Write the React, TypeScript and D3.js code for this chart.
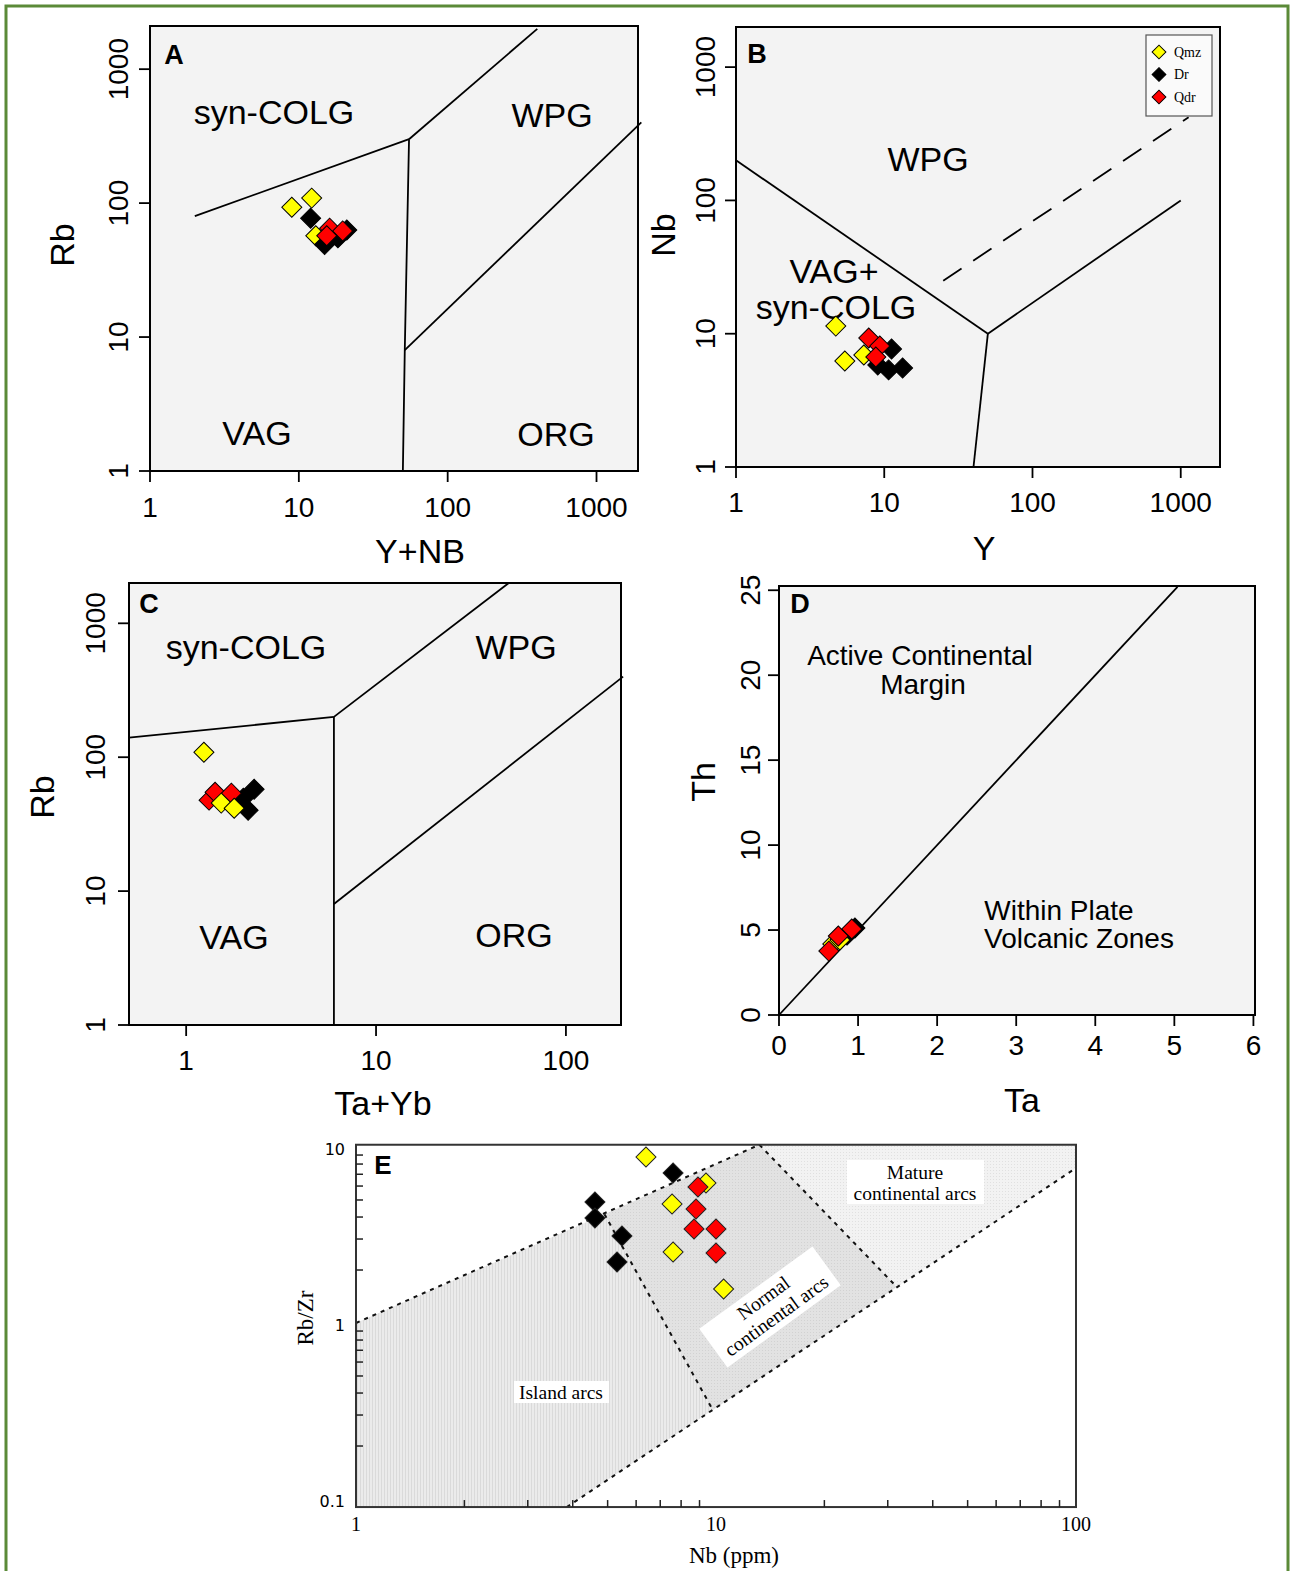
import React from "react";
import * as d3 from "d3";

type Pt = [number, number];

// series names / colours
const groups = ["Qmz", "Dr", "Qdr"];
const groupFill: Record<string, string> = { Qmz: "#ffff00", Dr: "#000000", Qdr: "#ff0000" };

// ---- A: Rb vs Y+Nb ----
const aQmz: Pt[] = [[8.97, 93], [12.2, 109], [13.0, 57]];
const aDr: Pt[] = [[12.0, 77], [14.9, 49], [18.3, 55], [21, 63]];
const aQdr: Pt[] = [[16.1, 65], [19.7, 62], [15.4, 57]];

// ---- B: Nb vs Y ----
const bQmz: Pt[] = [[4.71, 11.4], [5.42, 6.24], [7.28, 6.92]];
const bDr: Pt[] = [[11.2, 7.68], [9.04, 5.82], [10.7, 5.35], [13.3, 5.53]];
const bQdr: Pt[] = [[7.86, 9.28], [9.33, 8.09], [8.77, 6.69]];

// ---- C: Rb vs Ta+Yb ----
const cQmz: Pt[] = [[1.24, 109], [1.53, 45.4], [1.79, 41.6]];
const cDr: Pt[] = [[2.28, 57.7], [2.12, 40.2], [2.0, 49.4]];
const cQdr: Pt[] = [[1.32, 47.8], [1.42, 54.8], [1.73, 53.9]];

// ---- D: Th vs Ta ----
const dQmz: Pt[] = [[0.68, 4.18], [0.77, 4.41]];
const dDr: Pt[] = [[0.96, 5.12], [0.86, 4.7]];
const dQdr: Pt[] = [[0.75, 4.65], [0.92, 5.06], [0.63, 3.76]];

// ---- E: Rb/Zr vs Nb ----
const eQmz: Pt[] = [[6.39, 8.77], [9.38, 6.24], [7.55, 4.74], [7.6, 2.53], [10.5, 1.56]];
const eDr: Pt[] = [[7.6, 7.11], [4.61, 4.87], [4.61, 3.95], [5.48, 3.12], [5.31, 2.22]];
const eQdr: Pt[] = [[8.91, 5.93], [8.8, 4.44], [8.69, 3.42], [10.0, 3.42], [10.0, 2.5]];

// discrimination boundaries (data units)
const rbYNbLines: Pt[][] = [
  [[2, 80], [55, 300]],
  [[55, 300], [400, 2000]],
  [[55, 300], [51.5, 8], [50, 1]],
  [[51.5, 8], [2000, 400]],
];
const nbYLines: Pt[][] = [
  [[1, 200], [50, 10]],
  [[50, 10], [40, 1]],
  [[50, 10], [1000, 100]],
];
const nbYDashed: Pt[][] = [[[25, 25], [1130, 420]]];
const rbTaYbLines: Pt[][] = [
  [[0.5, 140], [6, 200]],
  [[6, 200], [50, 2000]],
  [[6, 200], [6, 8], [6, 1]],
  [[6, 8], [200, 400]],
];
const thTaLines: Pt[][] = [[[0, 0], [5.04, 25.2]]];

const islandArcs: Pt[] = [[1, 1], [4.9, 4.15], [9.8, 0.32], [3.85, 0.09], [1, 0.09]];
const normalArcs: Pt[] = [[4.9, 4.15], [13.2, 10.3], [31.8, 1.6], [9.8, 0.32]];
const matureArcs: Pt[] = [[13.2, 10.3], [100, 10.3], [100, 7.6], [31.8, 1.6]];
const eDashed: Pt[][] = [
  [[1, 1], [13.2, 10.3]],
  [[4.9, 4.15], [9.8, 0.32]],
  [[13.2, 10.3], [31.8, 1.6]],
  [[3.85, 0.09], [100, 7.6]],
];

const logTicks = [1, 10, 100, 1000];
const taTicks = [0, 1, 2, 3, 4, 5, 6];
const thTicks = [0, 5, 10, 15, 20, 25];
const eXLabels = [1, 10, 100];
const eYLabels = [0.1, 1, 10];

const SANS = "'Liberation Sans', Arial, sans-serif";
const SERIF = "'Liberation Serif', 'Times New Roman', serif";

const diamond = d3.symbol(d3.symbolSquare, 200)();
const smallDiamond = d3.symbol(d3.symbolSquare, 95)();

type Txt = { t: string; x: number; y: number; size?: number };

function Panel(p: any) {
  const { x, y, xTicks, yTicks, lines, dashed, texts, series, letter, xTitle, yTitle, xDy, yDx } = p;
  const [l, r] = x.range();
  const [b, t] = y.range();
  const line = d3.line<Pt>().x((d) => x(d[0])).y((d) => y(d[1]));
  return (
    <g>
      <rect x={l} y={t} width={r - l} height={b - t} fill="#f3f3f3" stroke="#000" strokeWidth={2} />
      {xTicks.map((v: number) => (
        <g key={"x" + v}>
          <line x1={x(v)} x2={x(v)} y1={b} y2={b + 11} stroke="#000" strokeWidth={1.8} />
          <text x={x(v)} y={b + xDy} textAnchor="middle" dominantBaseline="central" fontSize={28} fontFamily={SANS}>
            {v}
          </text>
        </g>
      ))}
      {yTicks.map((v: number) => (
        <g key={"y" + v}>
          <line x1={l - 11} x2={l} y1={y(v)} y2={y(v)} stroke="#000" strokeWidth={1.8} />
          <text
            transform={`translate(${l + yDx},${y(v)}) rotate(-90)`}
            textAnchor="middle"
            dominantBaseline="central"
            fontSize={28}
            fontFamily={SANS}
          >
            {v}
          </text>
        </g>
      ))}
      {lines.map((pts: Pt[], i: number) => (
        <path key={"l" + i} d={line(pts) || ""} fill="none" stroke="#000" strokeWidth={1.8} />
      ))}
      {(dashed || []).map((pts: Pt[], i: number) => (
        <path key={"d" + i} d={line(pts) || ""} fill="none" stroke="#000" strokeWidth={1.8} strokeDasharray="22,14" />
      ))}
      {texts.map((d: Txt, i: number) => (
        <text key={"t" + i} x={d.x} y={d.y} textAnchor="middle" dominantBaseline="central" fontSize={d.size || 34} fontFamily={SANS}>
          {d.t}
        </text>
      ))}
      <text x={letter.x} y={letter.y} textAnchor="middle" dominantBaseline="central" fontSize={27} fontWeight="bold" fontFamily={SANS}>
        {letter.t}
      </text>
      <text x={xTitle.x} y={xTitle.y} textAnchor="middle" dominantBaseline="central" fontSize={34} fontFamily={SANS}>
        {xTitle.t}
      </text>
      <text
        transform={`translate(${yTitle.x},${yTitle.y}) rotate(-90)`}
        textAnchor="middle"
        dominantBaseline="central"
        fontSize={34}
        fontFamily={SANS}
      >
        {yTitle.t}
      </text>
      {series.map(([data, name]: [Pt[], string]) =>
        data.map((d, i) => (
          <path
            key={name + i}
            d={diamond || ""}
            transform={`translate(${x(d[0])},${y(d[1])}) rotate(45)`}
            fill={groupFill[name]}
            stroke="#000"
            strokeWidth={1}
          />
        ))
      )}
    </g>
  );
}

function PanelE() {
  const x = d3.scaleLog().domain([1, 100]).range([356, 1076]);
  const y = d3.scaleLog().domain([0.1, 10]).range([1499, 1147]);
  const l = x(1), r = x(100), t = y(10.3), b = y(0.09);
  const line = d3.line<Pt>().x((d) => x(d[0])).y((d) => y(d[1]));
  const poly = (pts: Pt[]) => (line(pts) || "") + "Z";
  const minorX = [2, 3, 4, 5, 6, 7, 8, 9, 20, 30, 40, 50, 60, 70, 80, 90];
  const minorY = [0.2, 0.3, 0.4, 0.5, 0.6, 0.7, 0.8, 0.9, 2, 3, 4, 5, 6, 7, 8, 9];
  const series: [Pt[], string][] = [[eQmz, "Qmz"], [eDr, "Dr"], [eQdr, "Qdr"]];
  return (
    <g>
      <defs>
        <pattern id="islandPat" width={3} height={3} patternUnits="userSpaceOnUse">
          <rect width={3} height={3} fill="#ebebeb" />
          <rect width={1} height={3} fill="#dadada" />
        </pattern>
        <pattern id="normalPat" width={3} height={3} patternUnits="userSpaceOnUse">
          <rect width={3} height={3} fill="#e2e2e2" />
          <rect width={1} height={1} fill="#d2d2d2" />
        </pattern>
        <pattern id="maturePat" width={3} height={3} patternUnits="userSpaceOnUse">
          <rect width={3} height={3} fill="#f2f2f2" />
          <rect width={1} height={1} fill="#e0e0e0" />
        </pattern>
      </defs>
      <rect x={l} y={t} width={r - l} height={b - t} fill="#fff" />
      <path d={poly(islandArcs)} fill="url(#islandPat)" />
      <path d={poly(normalArcs)} fill="url(#normalPat)" />
      <path d={poly(matureArcs)} fill="url(#maturePat)" />
      {eDashed.map((pts, i) => (
        <path key={i} d={line(pts) || ""} fill="none" stroke="#111" strokeWidth={2} strokeDasharray="4,5" />
      ))}
      <rect x={l} y={t} width={r - l} height={b - t} fill="none" stroke="#333" strokeWidth={2} />
      {minorX.map((v) => (
        <line key={"mx" + v} x1={x(v)} x2={x(v)} y1={b} y2={b - 7} stroke="#222" strokeWidth={1.5} />
      ))}
      {minorY.map((v) => (
        <line key={"my" + v} x1={l} x2={l + 7} y1={y(v)} y2={y(v)} stroke="#222" strokeWidth={1.5} />
      ))}
      {eXLabels.map((v) => (
        <text key={"xl" + v} x={x(v)} y={1524} textAnchor="middle" dominantBaseline="central" fontSize={20} fontFamily={SERIF}>
          {v}
        </text>
      ))}
      {eYLabels.map((v) => (
        <text key={"yl" + v} x={345} y={y(v) + 2} textAnchor="end" dominantBaseline="central" fontSize={16} fontFamily="'DejaVu Sans', sans-serif">
          {v}
        </text>
      ))}
      <text x={734} y={1555} textAnchor="middle" dominantBaseline="central" fontSize={23} fontFamily={SERIF}>
        Nb (ppm)
      </text>
      <text transform="translate(305,1318) rotate(-90)" textAnchor="middle" dominantBaseline="central" fontSize={23} fontFamily={SERIF}>
        Rb/Zr
      </text>
      <text x={383} y={1165} textAnchor="middle" dominantBaseline="central" fontSize={26} fontWeight="bold" fontFamily={SANS}>
        E
      </text>
      <rect x={847} y={1160} width={137} height={44} fill="#fff" />
      <text x={915} y={1172} textAnchor="middle" dominantBaseline="central" fontSize={19.5} fontFamily={SERIF}>
        Mature
      </text>
      <text x={915} y={1193} textAnchor="middle" dominantBaseline="central" fontSize={19.5} fontFamily={SERIF}>
        continental arcs
      </text>
      <rect x={514} y={1381} width={95} height={22} fill="#fff" />
      <text x={561} y={1392} textAnchor="middle" dominantBaseline="central" fontSize={19.5} fontFamily={SERIF}>
        Island arcs
      </text>
      <g transform="translate(770,1307) rotate(-36)">
        <rect x={-70} y={-24} width={140} height={48} fill="#fff" />
        <text x={0} y={-11} textAnchor="middle" dominantBaseline="central" fontSize={19.5} fontFamily={SERIF}>
          Normal
        </text>
        <text x={0} y={11} textAnchor="middle" dominantBaseline="central" fontSize={19.5} fontFamily={SERIF}>
          continental arcs
        </text>
      </g>
      {series.map(([data, name]) =>
        data.map((d, i) => (
          <path
            key={name + i}
            d={diamond || ""}
            transform={`translate(${x(d[0])},${y(d[1])}) rotate(45)`}
            fill={groupFill[name]}
            stroke="#222"
            strokeWidth={1}
          />
        ))
      )}
    </g>
  );
}

export default function App() {
  const xA = d3.scaleLog().domain([1, 1900]).range([150, 638]);
  const yA = d3.scaleLog().domain([1, 2100]).range([471, 26]);
  const xB = d3.scaleLog().domain([1, 1840]).range([736, 1220]);
  const yB = d3.scaleLog().domain([1, 2000]).range([467, 27]);
  const xC = d3.scaleLog().domain([0.5, 195]).range([129, 621]);
  const yC = d3.scaleLog().domain([1, 2000]).range([1025, 583]);
  const xD = d3.scaleLinear().domain([0, 6.02]).range([779, 1255]);
  const yD = d3.scaleLinear().domain([0, 25.25]).range([1015, 586]);

  return (
    <svg width={1292} height={1571} style={{ position: "absolute", left: 0, top: 0, background: "#fff" }}>
      <rect x={0} y={0} width={1292} height={1571} fill="#fff" />
      <Panel
        x={xA}
        y={yA}
        xTicks={logTicks}
        yTicks={logTicks}
        xDy={36}
        yDx={-32}
        lines={rbYNbLines}
        texts={[
          { t: "syn-COLG", x: 274, y: 112 },
          { t: "WPG", x: 552, y: 115 },
          { t: "VAG", x: 257, y: 433 },
          { t: "ORG", x: 556, y: 434 },
        ]}
        letter={{ t: "A", x: 174, y: 55 }}
        xTitle={{ t: "Y+NB", x: 420, y: 551 }}
        yTitle={{ t: "Rb", x: 62, y: 245 }}
        series={[[aQmz, "Qmz"], [aDr, "Dr"], [aQdr, "Qdr"]]}
      />
      <Panel
        x={xB}
        y={yB}
        xTicks={logTicks}
        yTicks={logTicks}
        xDy={35}
        yDx={-31}
        lines={nbYLines}
        dashed={nbYDashed}
        texts={[
          { t: "WPG", x: 928, y: 159 },
          { t: "VAG+", x: 834, y: 271 },
          { t: "syn-COLG", x: 836, y: 307 },
        ]}
        letter={{ t: "B", x: 757, y: 54 }}
        xTitle={{ t: "Y", x: 984, y: 548 }}
        yTitle={{ t: "Nb", x: 663, y: 235 }}
        series={[[bQmz, "Qmz"], [bDr, "Dr"], [bQdr, "Qdr"]]}
      />
      <Panel
        x={xC}
        y={yC}
        xTicks={[1, 10, 100]}
        yTicks={logTicks}
        xDy={35}
        yDx={-34}
        lines={rbTaYbLines}
        texts={[
          { t: "syn-COLG", x: 246, y: 647 },
          { t: "WPG", x: 516, y: 647 },
          { t: "VAG", x: 234, y: 937 },
          { t: "ORG", x: 514, y: 935 },
        ]}
        letter={{ t: "C", x: 149, y: 604 }}
        xTitle={{ t: "Ta+Yb", x: 383, y: 1103 }}
        yTitle={{ t: "Rb", x: 42, y: 797 }}
        series={[[cDr, "Dr"], [cQdr, "Qdr"], [cQmz, "Qmz"]]}
      />
      <Panel
        x={xD}
        y={yD}
        xTicks={taTicks}
        yTicks={thTicks}
        xDy={30}
        yDx={-29}
        lines={thTaLines}
        texts={[
          { t: "Active Continental", x: 920, y: 655, size: 28 },
          { t: "Margin", x: 923, y: 684, size: 28 },
          { t: "Within Plate", x: 1059, y: 910, size: 28 },
          { t: "Volcanic Zones", x: 1079, y: 938, size: 28 },
        ]}
        letter={{ t: "D", x: 800, y: 604 }}
        xTitle={{ t: "Ta", x: 1022, y: 1100 }}
        yTitle={{ t: "Th", x: 703, y: 782 }}
        series={[[dDr, "Dr"], [dQmz, "Qmz"], [dQdr, "Qdr"]]}
      />
      {/* legend of panel B */}
      <g>
        <rect x={1146} y={35} width={66} height={81} fill="#fafafa" stroke="#555" strokeWidth={1.2} />
        {groups.map((g, i) => (
          <g key={g} transform={`translate(1159,${52 + i * 22.5})`}>
            <path d={smallDiamond || ""} transform="rotate(45)" fill={groupFill[g]} stroke="#000" strokeWidth={1} />
            <text x={15} y={0} dominantBaseline="central" fontSize={14} fontFamily={SERIF}>
              {g}
            </text>
          </g>
        ))}
      </g>
      <PanelE />
      <rect x={6} y={6} width={1282} height={1600} fill="none" stroke="#5b8a38" strokeWidth={3} />
    </svg>
  );
}
